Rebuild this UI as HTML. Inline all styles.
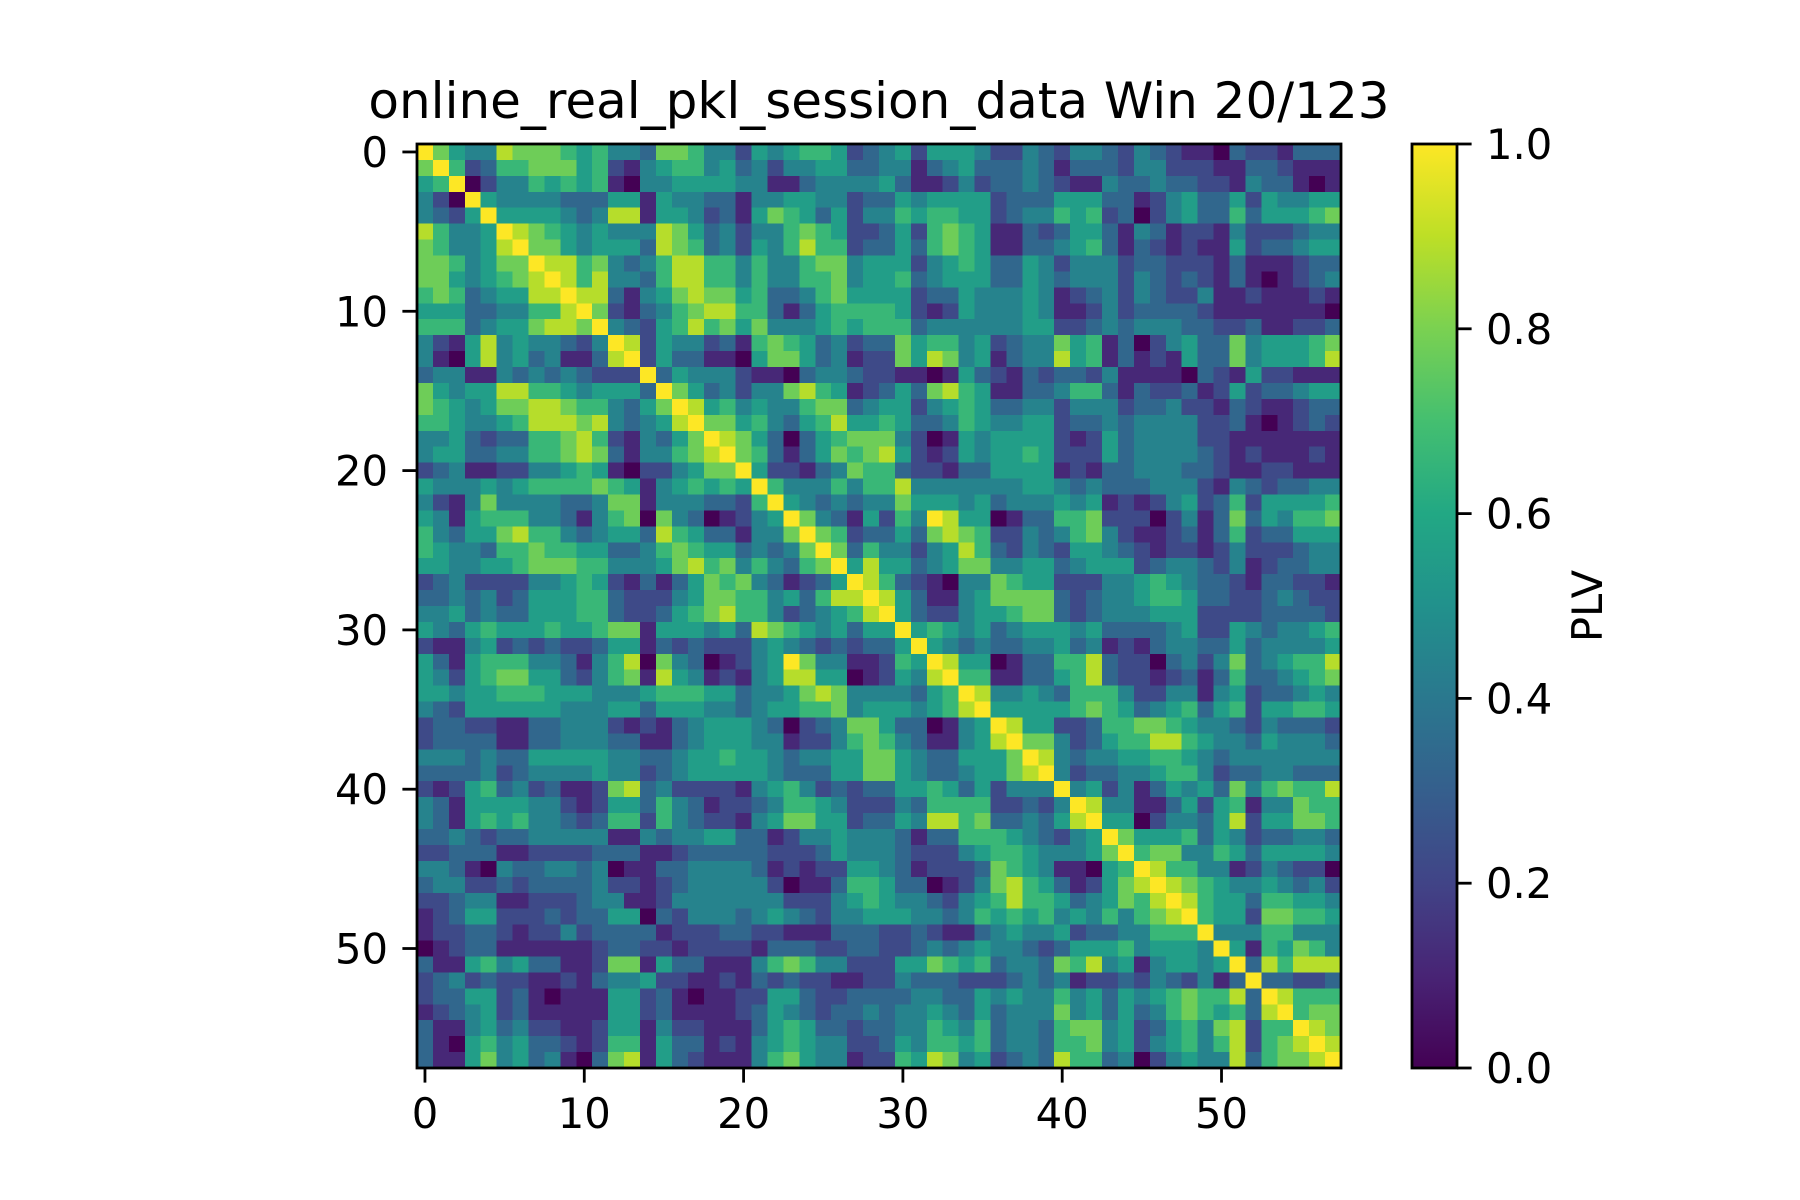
<!DOCTYPE html>
<html><head><meta charset="utf-8"><title>PLV heatmap</title>
<style>
html,body{margin:0;padding:0;background:#fff;}
svg{display:block;font-family:"DejaVu Sans","Liberation Sans",sans-serif;}
</style></head>
<body>
<svg id="fig" width="1800" height="1200" viewBox="0 0 1800 1200" xmlns="http://www.w3.org/2000/svg">
<rect x="0" y="0" width="1800" height="1200" fill="#fff"/>
<text x="879" y="118" font-size="50" text-anchor="middle" fill="#000">online_real_pkl_session_data Win 20/123</text>
<defs>
<linearGradient id="vir" x1="0" y1="1" x2="0" y2="0">
<stop offset="0" stop-color="#440154"/><stop offset="0.1" stop-color="#482475"/><stop offset="0.2" stop-color="#414487"/><stop offset="0.3" stop-color="#355f8d"/><stop offset="0.4" stop-color="#2a788e"/><stop offset="0.5" stop-color="#21918c"/><stop offset="0.6" stop-color="#22a884"/><stop offset="0.7" stop-color="#44bf70"/><stop offset="0.8" stop-color="#7ad151"/><stop offset="0.9" stop-color="#bddf26"/><stop offset="1" stop-color="#fde725"/>
</linearGradient>
</defs>
<g id="cells" shape-rendering="crispEdges"></g>
<rect x="417" y="144" width="924" height="924" fill="none" stroke="#000" stroke-width="2.8"/>
<g id="xaxis"></g>
<g id="yaxis"></g>
<rect x="1412" y="144" width="45" height="924" fill="url(#vir)" stroke="#000" stroke-width="2.8"/>
<g id="cbaxis"></g>
<text x="0" y="0" font-size="41.7" text-anchor="middle" transform="translate(1602,606) rotate(-90)" fill="#000">PLV</text>
</svg>
<script>
// Lower-triangle PLV values (row r, cols 0..r), digit d -> PLV d/9; matrix is symmetric
const plvRows = [
"9","79","569","4209","43259","864459","7644589","77645779","775456789","6763455889",
"55533446689","666345578879","4215845443249","41058453411389","344114343432229",
"7545588665455539","76545778876643579","665445688878434589","4453233667862143579",
"45533446678731446789","234112244565102245779","5444545666676514565659",
"42147444433477144433269","541566644314670743012459","6435578664345538653314479",
"65443667665533467655343479","554455677766444578674643679","2342222445652131357674312359",
"33434235556632224577664536889","445343355566322356786642345689",
"5435655565567715554538765453559","21145232322355132322245432323359",
"531566644314680743012459744112659","5425677553246718541214588550125489",
"55455666555444566655344578744443569","432555555444553555443455667455545689",
"2332211334442121345554302347753301459","23333113344433113455544122467643114589",
"444343355555443345565543445577543355579","3333423444454423455555433355775433455789",
"21256342311278342222145642323355653524449","431555544212553643122346654222436666223249",
"4315656443236626432214577552335488673343589","33432334444411434455331244544431336665432459",
"22333112222333112333332223544" + "432224566544457" + "9",
"44310433443401133444431212255" + "4312223765411056" + "9",
"34422323333422123444442011366" + "53301247865312578" + "9",
"22344112223441124444444222456" + "544324568665345768" + "9",
"12355222323355032444345432445" + "5544346565645464678" + "9",
"12233212242333312223322111333" + "22321134544523344666" + "9",
"01233111111233221222213332233" + "223434544323555645554" + "9",
"31156453311277153311146764422" + "2557656344376845145545" + "9",
"23423221121344522112132322112" + "24333222343412232432413" + "9",
"23355231011155231011225532233" + "334433545446453545676683" + "9",
"12345231111155231111235432334" + "3445435344474535346765638" + "9",
"31145342211255142211135653323" + "34465463443677452356478266" + "9",
"31056453321266153312145654422" + "354665634436674524564682678" + "9",
"31157453410378153211146754412" + "2658745234386634024544836778" + "9"
];
const nCh = 58;
const tickVals = [0,10,20,30,40,50];
const cbTicks = [0,0.2,0.4,0.6,0.8,1.0];

const AX = {x0:417, y0:144, size:924};
const cell = AX.size / nCh;
function xPos(c){ return AX.x0 + c*cell; }
function yPos(r){ return AX.y0 + r*cell; }
function cbY(v){ return AX.y0 + AX.size*(1 - v); }
function val(r,c){ const a=Math.max(r,c), b=Math.min(r,c); const s=plvRows[a]; const ch=s.charAt(b); return (ch===''?0:parseInt(ch,10))/9; }
const VIR = ["#440154","#482475","#414487","#355f8d","#2a788e","#21918c","#22a884","#44bf70","#7ad151","#bddf26","#fde725"];
function hex(h){ return [parseInt(h.substr(1,2),16),parseInt(h.substr(3,2),16),parseInt(h.substr(5,2),16)]; }
function viridis(v){ v=Math.max(0,Math.min(1,v)); const p=v*10; const i=Math.min(9,Math.floor(p)); const t=p-i; const a=hex(VIR[i]), b=hex(VIR[i+1]); return 'rgb('+a.map((x,k)=>Math.round(x+(b[k]-x)*t)).join(',')+')'; }
const NS = "http://www.w3.org/2000/svg";
function mk(tag, attrs, parent){ const e=document.createElementNS(NS,tag); for(const k in attrs) e.setAttribute(k, attrs[k]); parent.appendChild(e); return e; }

const cg = document.getElementById('cells');
for (let r=0;r<nCh;r++){
  for (let c=0;c<nCh;c++){
    const el = mk('rect',{x:xPos(c).toFixed(2), y:yPos(r).toFixed(2), width:(cell+0.6).toFixed(2), height:(cell+0.6).toFixed(2), fill:viridis(val(r,c))}, cg);
    
    
  }
}
const xg = document.getElementById('xaxis'), yg = document.getElementById('yaxis');
tickVals.forEach(t => {
  const cx = xPos(t+0.5), cy = yPos(t+0.5);
  const xt = mk('line',{x1:cx,x2:cx,y1:1068,y2:1082.6,stroke:'#000','stroke-width':2.8}, xg);
  
  
  const xl = mk('text',{x:cx,y:1128,'font-size':41.7,'text-anchor':'middle',fill:'#000'}, xg);
  xl.textContent = String(t);
  
  
  const yt = mk('line',{x1:402.4,x2:417,y1:cy,y2:cy,stroke:'#000','stroke-width':2.8}, yg);
  
  
  const yl = mk('text',{x:388,y:cy+15,'font-size':41.7,'text-anchor':'end',fill:'#000'}, yg);
  yl.textContent = String(t);
  
  
});
const cbg = document.getElementById('cbaxis');
cbTicks.forEach(v => {
  const y = cbY(v);
  const tl = mk('line',{x1:1457,x2:1471.6,y1:y,y2:y,stroke:'#000','stroke-width':2.8}, cbg);
  
  
  const lb = mk('text',{x:1486,y:y+15,'font-size':41.7,fill:'#000'}, cbg);
  lb.textContent = v.toFixed(1);
  
  
});
</script>
</body></html>
